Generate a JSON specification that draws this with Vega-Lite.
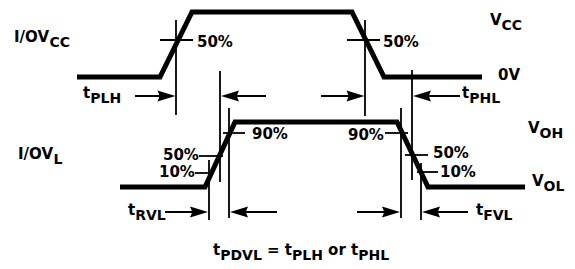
{
  "$schema": "https://vega.github.io/schema/vega-lite/v6.json",
  "width": 575,
  "height": 269,
  "padding": 0,
  "autosize": {"type": "none"},
  "background": "white",
  "config": {"view": {"stroke": null}},
  "datasets": {
    "waves": [
      {"wave": "top", "i": 0, "x": 77, "y": 77},
      {"wave": "top", "i": 1, "x": 160, "y": 77},
      {"wave": "top", "i": 2, "x": 192, "y": 12},
      {"wave": "top", "i": 3, "x": 352, "y": 12},
      {"wave": "top", "i": 4, "x": 384, "y": 77},
      {"wave": "top", "i": 5, "x": 482, "y": 77},
      {"wave": "bottom", "i": 0, "x": 120, "y": 187},
      {"wave": "bottom", "i": 1, "x": 205, "y": 187},
      {"wave": "bottom", "i": 2, "x": 235, "y": 122},
      {"wave": "bottom", "i": 3, "x": 397, "y": 122},
      {"wave": "bottom", "i": 4, "x": 428, "y": 187},
      {"wave": "bottom", "i": 5, "x": 525, "y": 187}
    ],
    "rules": [
      {"x1": 176, "y1": 20, "x2": 176, "y2": 115},
      {"x1": 365, "y1": 20, "x2": 365, "y2": 116},
      {"x1": 220, "y1": 71, "x2": 220, "y2": 182},
      {"x1": 412, "y1": 70, "x2": 412, "y2": 180},
      {"x1": 209, "y1": 160, "x2": 209, "y2": 220},
      {"x1": 229, "y1": 108, "x2": 229, "y2": 218},
      {"x1": 401, "y1": 108, "x2": 401, "y2": 218},
      {"x1": 421, "y1": 163, "x2": 421, "y2": 220},
      {"x1": 160, "y1": 40, "x2": 193, "y2": 40},
      {"x1": 347, "y1": 40, "x2": 380, "y2": 40},
      {"x1": 199, "y1": 156, "x2": 223, "y2": 156},
      {"x1": 195, "y1": 173, "x2": 213, "y2": 173},
      {"x1": 223, "y1": 133, "x2": 245, "y2": 133},
      {"x1": 385, "y1": 133, "x2": 408, "y2": 133},
      {"x1": 405, "y1": 155, "x2": 428, "y2": 155},
      {"x1": 417, "y1": 172, "x2": 438, "y2": 172},
      {"x1": 135, "y1": 96, "x2": 170, "y2": 96},
      {"x1": 227, "y1": 96, "x2": 266, "y2": 96},
      {"x1": 321, "y1": 96, "x2": 360, "y2": 96},
      {"x1": 419, "y1": 96, "x2": 460, "y2": 96},
      {"x1": 165, "y1": 212, "x2": 203, "y2": 212},
      {"x1": 236, "y1": 212, "x2": 277, "y2": 212},
      {"x1": 357, "y1": 212, "x2": 395, "y2": 212},
      {"x1": 428, "y1": 212, "x2": 468, "y2": 212}
    ],
    "heads": [
      {"x": 175.5, "y": 96, "dir": "right"},
      {"x": 221, "y": 96, "dir": "left"},
      {"x": 364.5, "y": 96, "dir": "right"},
      {"x": 413, "y": 96, "dir": "left"},
      {"x": 208, "y": 212, "dir": "right"},
      {"x": 230, "y": 212, "dir": "left"},
      {"x": 400, "y": 212, "dir": "right"},
      {"x": 422, "y": 212, "dir": "left"}
    ],
    "labels": [
      {"x": 14, "y": 42, "text": "I/OV"},
      {"x": 197, "y": 47, "text": "50%"},
      {"x": 383, "y": 47, "text": "50%"},
      {"x": 490, "y": 25, "text": "V"},
      {"x": 498, "y": 80, "text": "0V"},
      {"x": 83, "y": 98, "text": "t"},
      {"x": 462, "y": 98, "text": "t"},
      {"x": 18, "y": 159, "text": "I/OV"},
      {"x": 528, "y": 133, "text": "V"},
      {"x": 532, "y": 186, "text": "V"},
      {"x": 163, "y": 160, "text": "50%"},
      {"x": 159, "y": 177, "text": "10%"},
      {"x": 252, "y": 139, "text": "90%"},
      {"x": 348, "y": 140, "text": "90%"},
      {"x": 433, "y": 158, "text": "50%"},
      {"x": 440, "y": 177, "text": "10%"},
      {"x": 128, "y": 215, "text": "t"},
      {"x": 476, "y": 215, "text": "t"},
      {"x": 213, "y": 255, "text": "t"},
      {"x": 267, "y": 255, "text": "= t"},
      {"x": 328.1, "y": 255, "text": "or t"}
    ],
    "subs": [
      {"x": 49.4, "y": 42, "text": "CC"},
      {"x": 501.6, "y": 25, "text": "CC"},
      {"x": 90.2, "y": 98, "text": "PLH"},
      {"x": 469.2, "y": 98, "text": "PHL"},
      {"x": 53.4, "y": 159, "text": "L"},
      {"x": 539.6, "y": 133, "text": "OH"},
      {"x": 543.6, "y": 186, "text": "OL"},
      {"x": 135.2, "y": 215, "text": "RVL"},
      {"x": 483.2, "y": 215, "text": "FVL"},
      {"x": 220.2, "y": 255, "text": "PDVL"},
      {"x": 292, "y": 255, "text": "PLH"},
      {"x": 358.2, "y": 255, "text": "PHL"}
    ]
  },
  "layer": [
    {
      "data": {"name": "waves"},
      "mark": {"type": "line", "color": "black", "strokeWidth": 5, "strokeJoin": "miter", "strokeCap": "butt"},
      "encoding": {
        "x": {"field": "x", "type": "quantitative", "scale": {"domain": [0, 575], "nice": false, "zero": false}, "axis": null},
        "y": {"field": "y", "type": "quantitative", "scale": {"domain": [0, 269], "nice": false, "zero": false, "reverse": true}, "axis": null},
        "detail": {"field": "wave"},
        "order": {"field": "i", "type": "quantitative"}
      }
    },
    {
      "data": {"name": "rules"},
      "mark": {"type": "rule", "color": "black", "strokeWidth": 1.8},
      "encoding": {
        "x": {"field": "x1", "type": "quantitative"},
        "y": {"field": "y1", "type": "quantitative"},
        "x2": {"field": "x2"},
        "y2": {"field": "y2"}
      }
    },
    {
      "data": {"name": "heads"},
      "mark": {"type": "point", "filled": true, "color": "black", "opacity": 1, "size": 324, "strokeWidth": 0},
      "encoding": {
        "x": {"field": "x", "type": "quantitative"},
        "y": {"field": "y", "type": "quantitative"},
        "shape": {
          "field": "dir",
          "type": "nominal",
          "scale": {"domain": ["right", "left"], "range": ["M0,0L-2,-0.6L-1.75,0L-2,0.6Z", "M0,0L2,-0.6L1.75,0L2,0.6Z"]},
          "legend": null
        }
      }
    },
    {
      "data": {"name": "labels"},
      "mark": {"type": "text", "font": "DejaVu Sans", "fontWeight": "bold", "fontSize": 15, "align": "left", "baseline": "alphabetic", "color": "black"},
      "encoding": {
        "x": {"field": "x", "type": "quantitative"},
        "y": {"field": "y", "type": "quantitative"},
        "text": {"field": "text"}
      }
    },
    {
      "data": {"name": "subs"},
      "mark": {"type": "text", "font": "DejaVu Sans", "fontWeight": "bold", "fontSize": 14, "align": "left", "baseline": "alphabetic", "dy": 5, "color": "black"},
      "encoding": {
        "x": {"field": "x", "type": "quantitative"},
        "y": {"field": "y", "type": "quantitative"},
        "text": {"field": "text"}
      }
    }
  ]
}
